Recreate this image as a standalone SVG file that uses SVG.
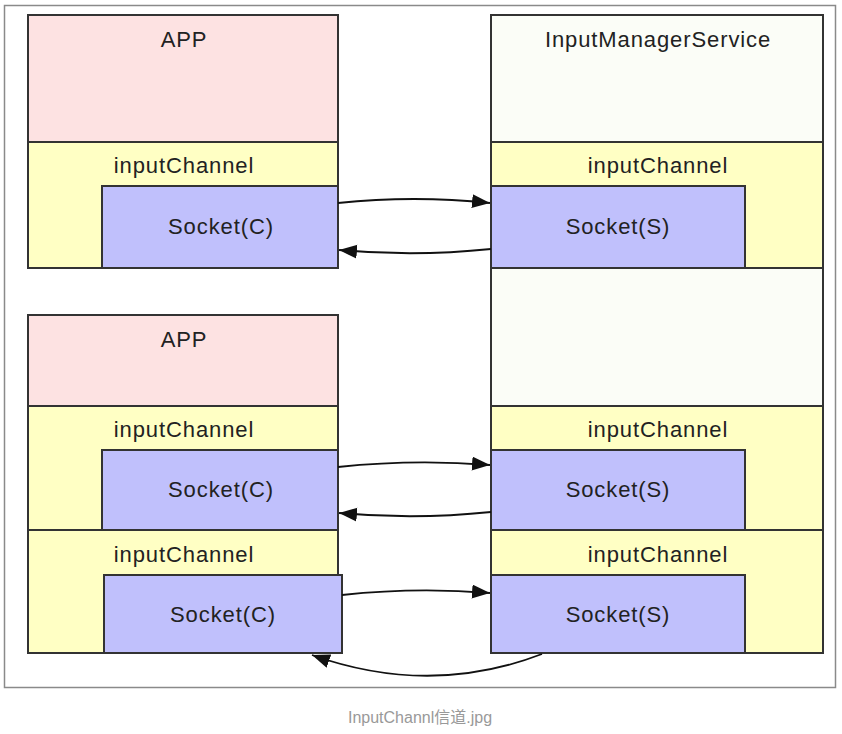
<svg xmlns="http://www.w3.org/2000/svg" width="842" height="734" viewBox="0 0 842 734">
<defs>
<style>
.frame{fill:#ffffff;stroke:#8a8a8a;stroke-width:1.5}
.app{fill:#fde2e2;stroke:#333;stroke-width:2}
.ims{fill:#fbfdf7;stroke:#333;stroke-width:2}
.ch{fill:#ffffc4;stroke:#333;stroke-width:2}
.sock{fill:#c0c0fc;stroke:#333;stroke-width:2}
.t{font-family:"Liberation Sans",Arial,sans-serif;font-size:22px;letter-spacing:0.9px;fill:#222;text-anchor:middle}
.cap{font-family:"Liberation Sans","Noto Sans CJK SC",sans-serif;font-size:16px;fill:#999;text-anchor:middle}
.edge{fill:none;stroke:#111;stroke-width:1.8;marker-end:url(#ah)}
</style>
<marker id="ah" markerUnits="userSpaceOnUse" markerWidth="20" markerHeight="16" refX="18" refY="7" orient="auto">
<path d="M0,0 L18,7 L0,14 Z" fill="#111"/>
</marker>
</defs>
<rect class="frame" x="4.5" y="5.5" width="831" height="682"/>

<g id="app1">
<rect class="app" x="28" y="15" width="310" height="127"/>
<text class="t" x="184" y="47">APP</text>
<g id="app1-channel">
<rect class="ch" x="28" y="142" width="310" height="126"/>
<text class="t" x="184" y="173">inputChannel</text>
</g>
<g id="app1-socket">
<rect class="sock" x="102" y="186" width="236" height="82"/>
<text class="t" x="221" y="234">Socket(C)</text>
</g>
</g>

<g id="ims">
<rect class="ims" x="491" y="15" width="332" height="638"/>
<text class="t" x="658" y="47">InputManagerService</text>
<g id="ims-channel1">
<rect class="ch" x="491" y="142" width="332" height="126"/>
<text class="t" x="658" y="173">inputChannel</text>
</g>
<g id="ims-socket1">
<rect class="sock" x="491" y="186" width="254" height="82"/>
<text class="t" x="618" y="234">Socket(S)</text>
</g>
<g id="ims-channel2">
<rect class="ch" x="491" y="406" width="332" height="124"/>
<text class="t" x="658" y="437">inputChannel</text>
</g>
<g id="ims-socket2">
<rect class="sock" x="491" y="450" width="254" height="80"/>
<text class="t" x="618" y="497">Socket(S)</text>
</g>
<g id="ims-channel3">
<rect class="ch" x="491" y="530" width="332" height="123"/>
<text class="t" x="658" y="562">inputChannel</text>
</g>
<g id="ims-socket3">
<rect class="sock" x="491" y="575" width="254" height="78"/>
<text class="t" x="618" y="622">Socket(S)</text>
</g>
</g>

<g id="app2">
<rect class="app" x="28" y="315" width="310" height="91"/>
<text class="t" x="184" y="347">APP</text>
<g id="app2-channel1">
<rect class="ch" x="28" y="406" width="310" height="124"/>
<text class="t" x="184" y="437">inputChannel</text>
</g>
<g id="app2-socket1">
<rect class="sock" x="102" y="450" width="236" height="80"/>
<text class="t" x="221" y="497">Socket(C)</text>
</g>
<g id="app2-channel2">
<rect class="ch" x="28" y="530" width="310" height="123"/>
<text class="t" x="184" y="562">inputChannel</text>
</g>
<g id="app2-socket2">
<rect class="sock" x="104" y="575" width="238" height="78"/>
<text class="t" x="223" y="622">Socket(C)</text>
</g>
</g>

<g id="connectors">
<path class="edge" d="M338,203 Q414,195 490,203"/>
<path class="edge" d="M491,249 Q415,257 339,250"/>
<path class="edge" d="M338,467 Q414,459 490,465"/>
<path class="edge" d="M491,512 Q415,520 339,513"/>
<path class="edge" d="M342,595 Q416,587 490,593"/>
<path class="edge" d="M542,654 Q430,697 312,655"/>
</g>

<text class="cap" x="420" y="723">InputChannl信道.jpg</text>
</svg>
